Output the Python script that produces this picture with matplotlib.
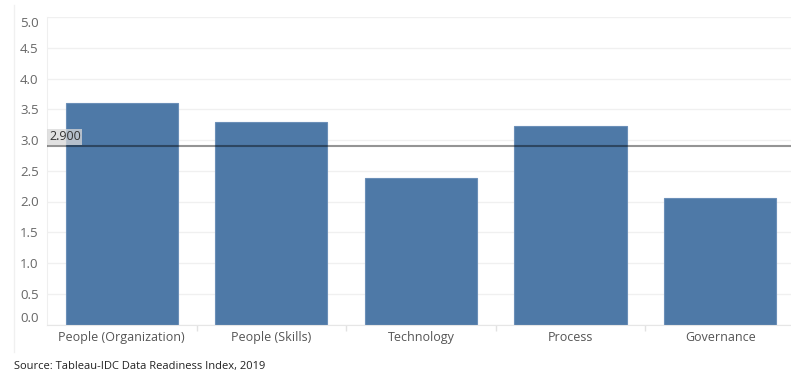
import matplotlib
matplotlib.use("Agg")
import matplotlib.pyplot as plt
from matplotlib.lines import Line2D

categories = ["People (Organization)", "People (Skills)", "Technology", "Process", "Governance"]
values = [3.60, 3.30, 2.38, 3.22, 2.05]
ref_value = 2.9
ref_label = "2.900"
yticks = [0.0, 0.5, 1.0, 1.5, 2.0, 2.5, 3.0, 3.5, 4.0, 4.5, 5.0]
ytick_labels = ["0.0", "0.5", "1.0", "1.5", "2.0", "2.5", "3.0", "3.5", "4.0", "4.5", "5.0"]
source = "Source: Tableau-IDC Data Readiness Index, 2019"

W, H = 791, 370
fig = plt.figure(figsize=(W / 100, H / 100), dpi=100)
fig.patch.set_facecolor("white")

left, right, top, bottom = 47, 791, 17, 324.5
ax = fig.add_axes([left / W, (H - bottom) / H, (right - left) / W, (bottom - top) / H])

x = list(range(len(categories)))
ax.bar(x, values, width=0.75, color="#4e79a7", edgecolor="#6b8fb8", linewidth=0.8, zorder=2)
ax.axhline(ref_value, color="black", alpha=0.42, linewidth=1.5, zorder=3)
ax.text(-0.487, ref_value + 0.05, ref_label, fontsize=9, color="#333333", family="Open Sans",
        va="bottom", ha="left", zorder=4,
        bbox=dict(boxstyle="square,pad=0.12", facecolor="#d8d8d8", edgecolor="none", alpha=0.75))

ax.set_xlim(-0.5, len(categories) - 0.5 - 4 / 150)
ax.set_ylim(0, 5.0)
ax.set_yticks(yticks)
ax.set_yticklabels(ytick_labels)
for lab in ax.get_yticklabels():
    lab.set_family("Open Sans")
    lab.set_fontsize(9.5)
    lab.set_color("#666666")
ax.get_yticklabels()[-1].set_verticalalignment("top")
ax.get_yticklabels()[0].set_verticalalignment("bottom")
ax.tick_params(axis="y", length=0, pad=6)

ax.set_xticks(x)
ax.set_xticklabels(categories)
for lab in ax.get_xticklabels():
    lab.set_family("Open Sans")
    lab.set_fontsize(9)
    lab.set_color("#555555")
ax.tick_params(axis="x", length=0, pad=5)
ax.set_xticks([0.5, 1.5, 2.5, 3.5], minor=True)
ax.tick_params(axis="x", which="minor", length=4, color="#e2e2e2", width=1)

ax.grid(axis="y", color="#f0f0f0", linewidth=1, zorder=0)
ax.set_axisbelow(True)
for s in ["top", "right"]:
    ax.spines[s].set_visible(False)
ax.spines["left"].set_color("#efefef")
ax.spines["bottom"].set_color("#e6e6e6")

fig.add_artist(Line2D([13.5 / W, 13.5 / W], [1 - 5 / H, 1 - 352 / H], color="#f0f0f0", linewidth=1))

fig.text(14 / W, 1 - 366 / H, source, fontsize=8, family="Open Sans", color="#222222", va="center", ha="left")

fig.savefig("out.png", dpi=100)
